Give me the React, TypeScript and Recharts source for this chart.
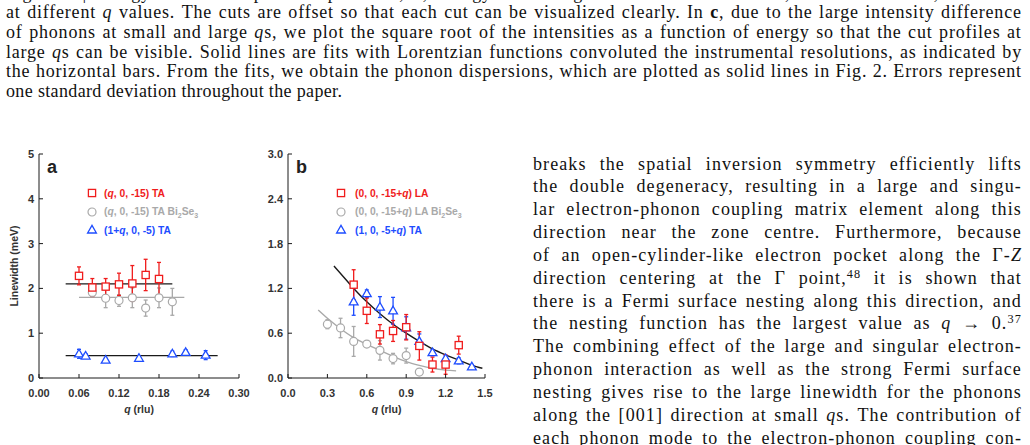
import React from "react";
import { ComposedChart, Scatter, Line, XAxis, YAxis, ErrorBar, Legend } from "recharts";

const RED = "#f01c1c";
const GRAY = "#a9a9a9";
const BLUE = "#1e4dff";
const INK = "#1a1a1a";
const TICK_TEXT = "#333";

// panel a: (q, 0, -15) TA
const qRedA = [0.06, 0.08, 0.1, 0.12, 0.14, 0.16, 0.18];
const wRedA = [2.28, 2.02, 2.04, 2.09, 2.11, 2.3, 2.21];
const eRedA = [0.2, 0.2, 0.18, 0.25, 0.4, 0.35, 0.37];

// panel a: (q, 0, -15) TA Bi2Se3
const qGrayA = [0.08, 0.1, 0.12, 0.14, 0.16, 0.18, 0.2];
const wGrayA = [1.91, 1.78, 1.73, 1.79, 1.56, 1.79, 1.7];
const eGrayA = [0.08, 0.21, 0.13, 0.22, 0.18, 0.22, 0.3];

// panel a: (1+q, 0, -5) TA
const qBlueA = [0.06, 0.07, 0.1, 0.15, 0.2, 0.22, 0.25];
const wBlueA = [0.54, 0.49, 0.4, 0.44, 0.54, 0.57, 0.51];
const eBlueA = [0.1, 0.05, 0.04, 0.04, 0.06, 0.06, 0.1];

// panel a: constant fits
const fitRedA = [{ q: 0.04, w: 2.1 }, { q: 0.2, w: 2.1 }];
const fitGrayA = [{ q: 0.06, w: 1.8 }, { q: 0.218, w: 1.8 }];
const fitBlueA = [{ q: 0.04, w: 0.5 }, { q: 0.268, w: 0.5 }];

// panel b: (0, 0, -15+q) LA
const qRedB = [0.5, 0.6, 0.7, 0.8, 0.9, 1.0, 1.1, 1.2, 1.3];
const wRedB = [1.25, 0.9, 0.585, 0.63, 0.68, 0.43, 0.18, 0.18, 0.44];
const eRedB = [0.2, 0.17, 0.13, 0.14, 0.17, 0.19, 0.1, 0.13, 0.12];

// panel b: (0, 0, -15+q) LA Bi2Se3
const qGrayB = [0.3, 0.4, 0.5, 0.6, 0.7, 0.8, 0.9, 1.0];
const wGrayB = [0.72, 0.67, 0.49, 0.455, 0.37, 0.26, 0.3, 0.08];
const eGrayB = [0.06, 0.13, 0.2, 0.04, 0.13, 0.07, 0.1, 0.03];

// panel b: (1, 0, -5+q) TA
const qBlueB = [0.5, 0.6, 0.7, 0.8, 0.9, 1.0, 1.1, 1.2, 1.3, 1.4];
const wBlueB = [1.02, 1.13, 0.95, 0.9, 0.67, 0.49, 0.34, 0.26, 0.23, 0.15];
const eBlueB = [0.18, 0.05, 0.14, 0.18, 0.15, 0.1, 0.04, 0.04, 0.04, 0.03];

// panel b: fitted curves
const qFitB = [0.35, 0.4, 0.5, 0.6, 0.7, 0.8, 0.9, 1.0, 1.1, 1.2, 1.3, 1.4, 1.48];
const wFitB = [1.5, 1.4, 1.2, 1.02, 0.86, 0.72, 0.6, 0.49, 0.39, 0.31, 0.24, 0.17, 0.13];
const qFitGrayB = [0.23, 0.3, 0.4, 0.5, 0.6, 0.7, 0.8, 0.9, 1.0, 1.1, 1.2, 1.28];
const wFitGrayB = [0.91, 0.8, 0.66, 0.54, 0.45, 0.37, 0.29, 0.22, 0.17, 0.13, 0.105, 0.095];

const ticksXA = [0, 0.06, 0.12, 0.18, 0.24, 0.3];
const ticksYA = [0, 1, 2, 3, 4, 5];
const ticksXB = [0, 0.3, 0.6, 0.9, 1.2, 1.5];
const ticksYB = [0, 0.6, 1.2, 1.8, 2.4, 3.0];

// *x* italic, **x** bold, ^x^ superscript
const captionLines = [
  "Figure 1 | Energy cuts of the phonon spectra. **a**, **b**, Energy cuts along the TA directions and **c**, the LA direction, measured",
  "at different *q* values. The cuts are offset so that each cut can be visualized clearly. In **c**, due to the large intensity difference",
  "of phonons at small and large *q*s, we plot the square root of the intensities as a function of energy so that the cut profiles at",
  "large *q*s can be visible. Solid lines are fits with Lorentzian functions convoluted the instrumental resolutions, as indicated by",
  "the horizontal bars. From the fits, we obtain the phonon dispersions, which are plotted as solid lines in Fig. 2. Errors represent",
];
const captionLast = "one standard deviation throughout the paper.";

const bodyLines = [
  "breaks the spatial inversion symmetry efficiently lifts",
  "the double degeneracy, resulting in a large and singu-",
  "lar electron-phonon coupling matrix element along this",
  "direction near the zone centre. Furthermore, because",
  "of an open-cylinder-like electron pocket along the Γ-*Z*",
  "direction centering at the Γ point,^48^ it is shown that",
  "there is a Fermi surface nesting along this direction, and",
  "the nesting function has the largest value as *q* → 0.^37^",
  "The combining effect of the large and singular electron-",
  "phonon interaction as well as the strong Fermi surface",
  "nesting gives rise to the large linewidth for the phonons",
  "along the [001] direction at small *q*s. The contribution of",
  "each phonon mode to the electron-phonon coupling con-",
];

function renderWord(w: string) {
  const parts = w.split(/(\*\*[^*]+\*\*|\*[^*]+\*|\^[^^]+\^)/).filter(Boolean);
  return parts.map((p, i) => {
    if (p.startsWith("**")) return <b key={i}>{p.slice(2, -2)}</b>;
    if (p.startsWith("*")) return <i key={i}>{p.slice(1, -1)}</i>;
    if (p.startsWith("^"))
      return (
        <span key={i} style={{ fontSize: "0.68em", position: "relative", top: "-0.5em" }}>
          {p.slice(1, -1)}
        </span>
      );
    return <React.Fragment key={i}>{p}</React.Fragment>;
  });
}

function JustifiedLine({ text, height }: { text: string; height: number }) {
  return (
    <div style={{ display: "flex", justifyContent: "space-between", whiteSpace: "nowrap", height }}>
      {text.split(" ").map((w, i) => (
        <span key={i}>{renderWord(w)}</span>
      ))}
    </div>
  );
}

const sub = (t: string) => <sub style={{ fontSize: 7, lineHeight: 0 }}>{t}</sub>;

const legendA = [
  { shape: "square", color: RED, label: <>(<i>q</i>, 0, -15) TA</> },
  { shape: "circle", color: GRAY, label: <>(<i>q</i>, 0, -15) TA Bi{sub("2")}Se{sub("3")}</> },
  { shape: "triangle", color: BLUE, label: <>(1+<i>q</i>, 0, -5) TA</> },
];
const legendB = [
  { shape: "square", color: RED, label: <>(0, 0, -15+<i>q</i>) LA</> },
  { shape: "circle", color: GRAY, label: <>(0, 0, -15+<i>q</i>) LA Bi{sub("2")}Se{sub("3")}</> },
  { shape: "triangle", color: BLUE, label: <>(1, 0, -5+<i>q</i>) TA</> },
];

const rows = (q: number[], w: number[], e: number[]) => q.map((x, i) => ({ q: x, w: w[i], e: e[i] }));
const pts = (q: number[], w: number[]) => q.map((x, i) => ({ q: x, w: w[i] }));

function marker(shape: string, color: string, cx: number, cy: number) {
  if (shape === "square")
    return <rect x={cx - 3.6} y={cy - 3.6} width={7.2} height={7.2} fill="#fff" stroke={color} strokeWidth={1.3} />;
  if (shape === "circle") return <circle cx={cx} cy={cy} r={4} fill="#fff" stroke={color} strokeWidth={1.2} />;
  return (
    <polygon
      points={`${cx},${cy - 4.6} ${cx - 4.4},${cy + 3} ${cx + 4.4},${cy + 3}`}
      fill="#fff"
      stroke={color}
      strokeWidth={1.3}
    />
  );
}

const shapeOf = (shape: string, color: string) => (p: any) => marker(shape, color, p.cx, p.cy);

const tickStyle = { fill: TICK_TEXT, fontSize: 11, fontWeight: 700, fontFamily: "Liberation Sans, Arial" };

function LegendBox({ items, gap }: { items: typeof legendA; gap: number }) {
  return (
    <div style={{ fontFamily: "Liberation Sans, Arial", fontWeight: 700, fontSize: 10.3 }}>
      {items.map((it, i) => (
        <div key={i} style={{ display: "flex", alignItems: "center", height: 18.5, color: it.color, whiteSpace: "nowrap" }}>
          <svg width={12} height={12} style={{ marginRight: gap }}>
            {marker(it.shape, it.color, 6, 6)}
          </svg>
          <span>{it.label}</span>
        </div>
      ))}
    </div>
  );
}

const qLabel = (p: any) => {
  const { x, y, width } = p.viewBox;
  return (
    <text x={x + width / 2} y={y + 35} textAnchor="middle" fill={TICK_TEXT} fontSize={10.5} fontWeight={700} fontFamily="Liberation Sans, Arial">
      <tspan fontStyle="italic">q</tspan> (rlu)
    </text>
  );
};

const widthLabel = (p: any) => {
  const { x, y, height } = p.viewBox;
  const cx = x + 5;
  const cy = y + height / 2;
  return (
    <text x={cx} y={cy} transform={`rotate(-90, ${cx}, ${cy})`} textAnchor="middle" dominantBaseline="central" fill={TICK_TEXT} fontSize={10.5} fontWeight={700} fontFamily="Liberation Sans, Arial">
      Linewidth (meV)
    </text>
  );
};

interface PanelProps {
  xDomain: [number, number];
  yDomain: [number, number];
  xTicks: number[];
  yTicks: number[];
  xFmt: (v: number) => string;
  yFmt: (v: number) => string;
  margin: { top: number; right: number; bottom: number; left: number };
  fits: { data: { q: number; w: number }[]; color: string; curved: boolean }[];
  series: { data: { q: number; w: number; e: number }[]; shape: string; color: string }[];
  legend: typeof legendA;
  legendPos: { left: number; top: number };
  legendGap: number;
  yLabel: boolean;
}

function Panel(props: PanelProps) {
  return (
    <ComposedChart width={250} height={280} margin={props.margin}>
      <XAxis
        xAxisId="b"
        dataKey="q"
        type="number"
        domain={props.xDomain}
        ticks={props.xTicks}
        tickFormatter={props.xFmt}
        tick={tickStyle}
        tickSize={-4}
        tickMargin={15}
        height={42}
        stroke={INK}
        interval={0}
        label={{ content: qLabel }}
      />
      <XAxis xAxisId="t" orientation="top" dataKey="q" type="number" domain={props.xDomain} ticks={props.xTicks} tick={false} tickSize={-4} height={0} stroke={INK} />
      <YAxis
        yAxisId="l"
        type="number"
        domain={props.yDomain}
        ticks={props.yTicks}
        tickFormatter={props.yFmt}
        tick={tickStyle}
        tickSize={-4}
        tickMargin={9}
        width={30}
        stroke={INK}
        interval={0}
        label={props.yLabel ? { content: widthLabel } : undefined}
      />
      <YAxis yAxisId="r" orientation="right" type="number" domain={props.yDomain} ticks={props.yTicks} tick={false} tickSize={-4} width={0} stroke={INK} />
      <Legend
        layout="vertical"
        align="center"
        verticalAlign="middle"
        wrapperStyle={{ left: props.legendPos.left, top: props.legendPos.top, width: "auto" }}
        content={() => <LegendBox items={props.legend} gap={props.legendGap} />}
      />
      {props.fits.map((f, i) => (
        <Line
          key={`fit${i}`}
          xAxisId="b"
          yAxisId="l"
          data={f.data}
          dataKey="w"
          type={f.curved ? "monotone" : "linear"}
          stroke={f.color}
          strokeWidth={1.4}
          dot={false}
          activeDot={false}
          legendType="none"
          isAnimationActive={false}
        />
      ))}
      {props.series.map((s, i) => (
        <Scatter
          key={`s${i}`}
          xAxisId="b"
          yAxisId="l"
          data={s.data}
          dataKey="w"
          shape={shapeOf(s.shape, s.color)}
          legendType="none"
          isAnimationActive={false}
        >
          <ErrorBar dataKey="e" direction="y" width={2} stroke={s.color} strokeWidth={1.3} />
        </Scatter>
      ))}
    </ComposedChart>
  );
}

const panelLetter = { position: "absolute" as const, fontFamily: "Liberation Sans, Arial", fontWeight: 700, fontSize: 18, color: "#222" };

export default function App() {
  return (
    <div style={{ position: "absolute", left: 0, top: 0, width: 1030, height: 445, overflow: "hidden", background: "#fff" }}>
      <div style={{ position: "absolute", left: 6, top: -16.5, width: 1016, fontFamily: "Liberation Serif, serif", fontSize: 18, letterSpacing: 0.8, lineHeight: "19.7px", color: "#111" }}>
        {captionLines.map((l, i) => (
          <JustifiedLine key={i} text={l} height={19.7} />
        ))}
        <div style={{ height: 19.7, whiteSpace: "nowrap", letterSpacing: 0.35 }}>{captionLast}</div>
      </div>

      <div style={{ position: "absolute", left: 533, top: 152.5, width: 489, fontFamily: "Liberation Serif, serif", fontSize: 18, letterSpacing: 1.1, lineHeight: "22.85px", color: "#111" }}>
        {bodyLines.map((l, i) => (
          <JustifiedLine key={i} text={l} height={22.85} />
        ))}
      </div>

      <div style={{ position: "absolute", left: 0, top: 140 }}>
        <Panel
          xDomain={[0, 0.3]}
          yDomain={[0, 5]}
          xTicks={ticksXA}
          yTicks={ticksYA}
          xFmt={(v) => v.toFixed(2)}
          yFmt={(v) => String(v)}
          margin={{ top: 14, right: 11, bottom: 0, left: 9 }}
          fits={[
            { data: fitRedA, color: INK, curved: false },
            { data: fitGrayA, color: GRAY, curved: false },
            { data: fitBlueA, color: INK, curved: false },
          ]}
          series={[
            { data: rows(qGrayA, wGrayA, eGrayA), shape: "circle", color: GRAY },
            { data: rows(qRedA, wRedA, eRedA), shape: "square", color: RED },
            { data: rows(qBlueA, wBlueA, eBlueA), shape: "triangle", color: BLUE },
          ]}
          legend={legendA}
          legendPos={{ left: 86, top: 44 }}
          legendGap={6}
          yLabel
        />
      </div>
      <div style={{ ...panelLetter, left: 47, top: 157 }}>a</div>

      <div style={{ position: "absolute", left: 250, top: 140 }}>
        <Panel
          xDomain={[0, 1.5]}
          yDomain={[0, 3]}
          xTicks={ticksXB}
          yTicks={ticksYB}
          xFmt={(v) => v.toFixed(1)}
          yFmt={(v) => v.toFixed(1)}
          margin={{ top: 14, right: 15, bottom: 0, left: 8 }}
          fits={[
            { data: pts(qFitGrayB, wFitGrayB), color: GRAY, curved: true },
            { data: pts(qFitB, wFitB), color: INK, curved: true },
          ]}
          series={[
            { data: rows(qGrayB, wGrayB, eGrayB), shape: "circle", color: GRAY },
            { data: rows(qBlueB, wBlueB, eBlueB), shape: "triangle", color: BLUE },
            { data: rows(qRedB, wRedB, eRedB), shape: "square", color: RED },
          ]}
          legend={legendB}
          legendPos={{ left: 85, top: 44 }}
          legendGap={8}
          yLabel={false}
        />
      </div>
      <div style={{ ...panelLetter, left: 296, top: 157 }}>b</div>
    </div>
  );
}
